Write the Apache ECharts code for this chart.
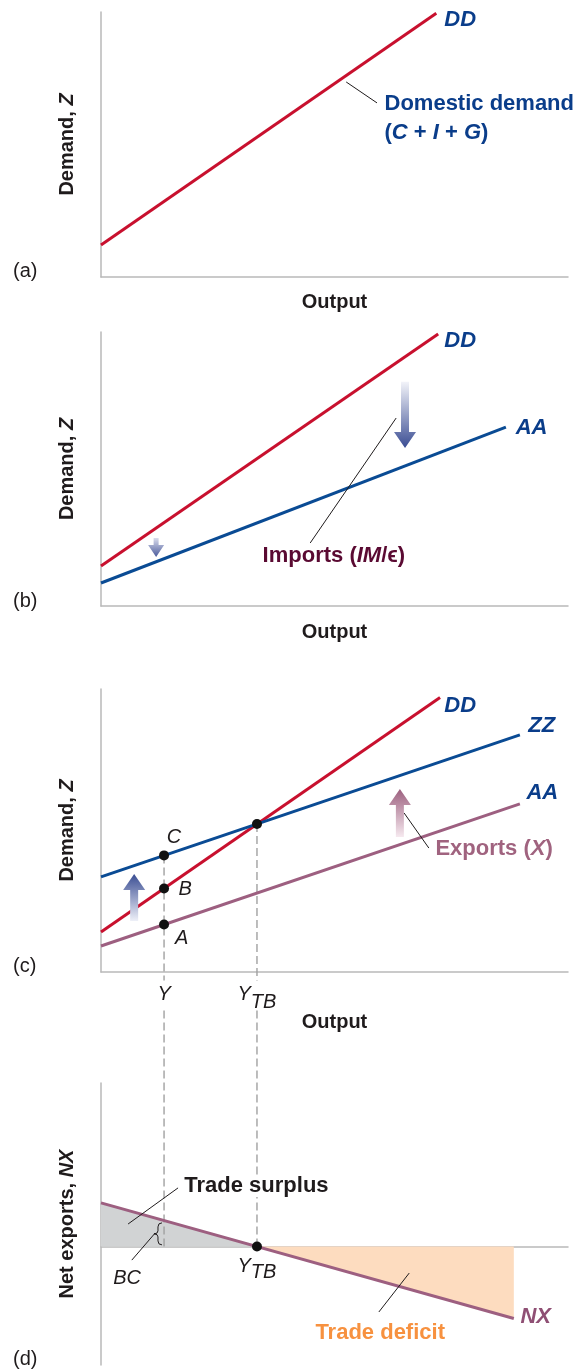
<!DOCTYPE html>
<html>
<head>
<meta charset="utf-8">
<script src="https://cdn.jsdelivr.net/npm/echarts@6/dist/echarts.min.js"></script>
<style>
html,body{margin:0;padding:0;background:#fff;}
#chart{width:580px;height:1371px;}
</style>
</head>
<body>
<div id="chart"></div>
<script>
// ---------- data (x = output, y = demand / net exports) ----------
const DD_a = [[0, 12.1], [71.8, 99.5]];

const DD_b = [[0, 14.6], [72.2, 99.3]];
const AA_b = [[0, 8.4], [86.7, 65.3]];

const DD_c = [[0, 14.1], [72.6, 97.0]];
const ZZ_c = [[0, 33.6], [89.7, 83.8]];
const AA_c = [[0, 9.2], [89.7, 59.4]];
const pointsC = [[13.5, 41.2], [13.5, 29.5], [13.5, 16.8], [33.4, 52.3]];
const Y_level = 13.5;
const YTB_level = 33.4;

const NX_d = [[0, 15.5], [88.4, -25.5]];
const surplus_d = [[0, 15.5], [33.4, 0]];
const deficit_d = [[33.4, 0], [88.4, -25.5]];
const pointD = [[33.4, 0]];
const braceBC = [[12.2, 0.6, 8.4]];

// arrows: [xTail, yTail, xHead, yHead]
const importsBig_b = [[65.1, 81.8, 65.1, 57.7]];
const importsSmall_b = [[11.8, 24.8, 11.8, 17.9]];
const exportsArrow_c = [[64.0, 47.7, 64.0, 64.7]];
const shiftArrow_c = [[7.1, 18.0, 7.1, 34.6]];

// leader lines
const leader_a = [[52.5, 73.6], [59.1, 65.7]];
const leader_b = [[44.8, 23.0], [63.2, 68.6]];
const leader_c = [[64.9, 56.2], [70.2, 43.8]];
const leaderSurplus_d = [[5.8, 8.0], [16.5, 20.8]];
const leaderBC_d = [[6.6, -4.8], [11.6, 4.8]];
const leaderDeficit_d = [[59.5, -23.2], [66.0, -9.4]];

// axis ranges
const xRange = [0, 100];
const yRangeABC = [0, 100];
const yRangeD = [-42, 58];

// ---------- styles ----------
const FONT = '"Liberation Sans", Arial, Helvetica, "DejaVu Sans", sans-serif';
const RED = '#c8102e';
const BLUE = '#0a4b94';
const LBLUE = '#0a3d8a';
const MAROON = '#5a0a32';
const MAUVE = '#9d5f80';
const MAUVE_T = '#a0637f';
const ORANGE = '#f7913f';
const ORANGE_F = '#fddcbf';
const GRAYF = '#d1d3d4';
const AXIS = '#b9b9b9';
const INK = '#1f1b1c';

function rich(color, size) {
  const base = {color: color, fontSize: size, fontFamily: FONT, opacity: 1};
  return {
    b: Object.assign({}, base, {fontWeight: 'bold'}),
    bi: Object.assign({}, base, {fontWeight: 'bold', fontStyle: 'italic'}),
    i: Object.assign({}, base, {fontStyle: 'italic'}),
    n: Object.assign({}, base),
    ysub8: Object.assign({}, base, {fontStyle: 'italic', verticalAlign: 'bottom', padding: [0, 0, 8, 0]}),
    ysub6: Object.assign({}, base, {fontStyle: 'italic', verticalAlign: 'bottom', padding: [0, 0, 6, 0]}),
    sub: Object.assign({}, base, {fontStyle: 'italic', verticalAlign: 'bottom'})
  };
}

const grids = [
  {left: 101, top: 12, width: 467, height: 265},
  {left: 101, top: 332, width: 467, height: 274},
  {left: 101, top: 689, width: 467, height: 283},
  {left: 101, top: 1083, width: 467, height: 282}
];

function xAxisFor(i, gap) {
  return {
    gridIndex: i, type: 'value', min: xRange[0], max: xRange[1],
    axisLine: {show: true, onZero: true, lineStyle: {color: AXIS, width: 1.5}},
    axisTick: {show: false}, axisLabel: {show: false}, splitLine: {show: false},
    name: i === 3 ? '' : 'Output', nameLocation: 'middle', nameGap: gap,
    nameTextStyle: {color: INK, fontSize: 20, fontWeight: 'bold', fontFamily: FONT}
  };
}
function yAxisFor(i, range, name) {
  return {
    gridIndex: i, type: 'value', min: range[0], max: range[1],
    axisLine: {show: true, onZero: false, lineStyle: {color: AXIS, width: 1.5}},
    axisTick: {show: false}, axisLabel: {show: false}, splitLine: {show: false},
    name: name, nameLocation: 'middle', nameGap: 24,
    nameTextStyle: {color: INK, fontSize: 20, fontWeight: 'bold', fontFamily: FONT,
      rich: rich(INK, 20)}
  };
}

function line(gi, data, color, width, z, extra) {
  return Object.assign({
    type: 'line', xAxisIndex: gi, yAxisIndex: gi, data: data, symbol: 'none',
    lineStyle: {color: color, width: width}, silent: true, z: z || 3, clip: false,
    animation: false
  }, extra || {});
}
function leader(gi, data) { return line(gi, data, INK, 1, 4); }
function dashed(gi, data) {
  return line(gi, data, '#a0a0a0', 1.4, 2, {lineStyle: {color: '#a0a0a0', width: 1.4, type: [8, 4]}});
}
function dots(gi, data) {
  return {type: 'scatter', xAxisIndex: gi, yAxisIndex: gi, data: data, symbolSize: 10,
    itemStyle: {color: '#111111', opacity: 1}, z: 8, silent: true, animation: false, clip: false};
}
function labels(gi, items) {
  return {
    type: 'scatter', xAxisIndex: gi, yAxisIndex: gi, clip: false, symbolSize: 1, silent: true,
    z: 9, animation: false, itemStyle: {color: 'rgba(0,0,0,0)', opacity: 1},
    data: items.map(function (it) {
      return {value: [it.x, it.y], label: {
        show: true, position: it.pos || 'right', distance: 0, formatter: it.text,
        color: it.color, fontSize: it.size || 22, fontFamily: FONT, opacity: 1,
        backgroundColor: it.bg || 'transparent', padding: it.bg ? [0, 2] : 0,
        rich: rich(it.color, it.size || 22)
      }};
    })
  };
}
function arrows(gi, data, dark, light, shaftW, headW, headL) {
  return {
    type: 'custom', xAxisIndex: gi, yAxisIndex: gi, data: data, silent: true, z: 5,
    animation: false, clip: false,
    encode: {x: [0, 2], y: [1, 3]},
    renderItem: function (params, api) {
      const t = api.coord([api.value(0), api.value(1)]);
      const h = api.coord([api.value(2), api.value(3)]);
      const dx = h[0] - t[0], dy = h[1] - t[1];
      const L = Math.sqrt(dx * dx + dy * dy);
      const ux = dx / L, uy = dy / L, nx = -uy, ny = ux;
      const bx = h[0] - ux * headL, by = h[1] - uy * headL;
      const s = shaftW / 2, w = headW / 2;
      const pts = [
        [t[0] + nx * s, t[1] + ny * s], [bx + nx * s, by + ny * s], [bx + nx * w, by + ny * w],
        [h[0], h[1]], [bx - nx * w, by - ny * w], [bx - nx * s, by - ny * s], [t[0] - nx * s, t[1] - ny * s]
      ];
      return {type: 'polygon', shape: {points: pts}, style: {
        fill: {type: 'linear', x: t[0], y: t[1], x2: h[0], y2: h[1], global: true,
          colorStops: [{offset: 0, color: light}, {offset: 1, color: dark}]}
      }};
    }
  };
}
function brace(gi, data) {
  return {
    type: 'custom', xAxisIndex: gi, yAxisIndex: gi, data: data, silent: true, z: 5,
    animation: false, clip: false, encode: {x: 0, y: [1, 2]},
    renderItem: function (params, api) {
      const b = api.coord([api.value(0), api.value(1)]);
      const t = api.coord([api.value(0), api.value(2)]);
      const X = b[0], top = t[1], bot = b[1], mid = (top + bot) / 2;
      const p = 'M' + (X + 4) + ' ' + top + ' Q' + X + ' ' + top + ' ' + X + ' ' + (top + 4) +
        ' L' + X + ' ' + (mid - 3) + ' Q' + X + ' ' + mid + ' ' + (X - 4) + ' ' + mid +
        ' Q' + X + ' ' + mid + ' ' + X + ' ' + (mid + 3) +
        ' L' + X + ' ' + (bot - 4) + ' Q' + X + ' ' + bot + ' ' + (X + 4) + ' ' + bot;
      return {type: 'path', shape: {pathData: p}, style: {fill: null, stroke: INK, lineWidth: 1}};
    }
  };
}

const series = [
  // ---- (a)
  line(0, DD_a, RED, 3),
  leader(0, leader_a),
  labels(0, [
    {x: 73.4, y: 97.0, text: '{bi|DD}', color: LBLUE},
    {x: 60.6, y: 65.3, text: '{b|Domestic demand}', color: LBLUE},
    {x: 60.6, y: 54.3, text: '{b|(}{bi|C}{b| + }{bi|I}{b| + }{bi|G}{b|)}', color: LBLUE}
  ]),
  // ---- (b)
  line(1, DD_b, RED, 3),
  line(1, AA_b, BLUE, 3),
  leader(1, leader_b),
  arrows(1, importsBig_b, '#3a4d93', '#f2f3f9', 8, 22, 16),
  arrows(1, importsSmall_b, '#4a5a9c', '#d9dcec', 5, 16, 12),
  labels(1, [
    {x: 73.4, y: 96.7, text: '{bi|DD}', color: LBLUE},
    {x: 88.7, y: 65.0, text: '{bi|AA}', color: LBLUE},
    {x: 34.5, y: 18.2, text: '{b|Imports (}{bi|IM}{b|/ϵ)}', color: MAROON}
  ]),
  // ---- (c)
  dashed(2, [[Y_level, pointsC[0][1]], [Y_level, -3]]),
  dashed(2, [[YTB_level, pointsC[3][1]], [YTB_level, -3]]),
  line(2, AA_c, MAUVE, 3),
  line(2, DD_c, RED, 3),
  line(2, ZZ_c, BLUE, 3),
  leader(2, leader_c),
  arrows(2, exportsArrow_c, '#9c5f7e', '#f6e9ef', 8, 22, 16),
  arrows(2, shiftArrow_c, '#3a4d93', '#eef0f8', 8, 22, 16),
  dots(2, pointsC),
  labels(2, [
    {x: 73.4, y: 94.0, text: '{bi|DD}', color: LBLUE},
    {x: 91.4, y: 86.9, text: '{bi|ZZ}', color: LBLUE},
    {x: 91.0, y: 63.3, text: '{bi|AA}', color: LBLUE},
    {x: 71.5, y: 43.5, text: '{b|Exports (}{bi|X}{b|)}', color: MAUVE_T},
    {x: 15.6, y: 47.7, text: '{i|C}', color: INK, size: 20, pos: 'inside'},
    {x: 18.0, y: 29.0, text: '{i|B}', color: INK, size: 20, pos: 'inside'},
    {x: 17.3, y: 12.0, text: '{i|A}', color: INK, size: 20, pos: 'inside'},
    {x: Y_level, y: -8.1, text: '{i|Y}', color: INK, size: 20, pos: 'inside'},
    {x: YTB_level, y: -9.3, text: '{ysub8|Y}{sub|TB}', color: INK, size: 20, pos: 'inside'}
  ]),
  // ---- (d)
  line(3, surplus_d, 'rgba(0,0,0,0)', 0, 1, {areaStyle: {color: GRAYF, opacity: 1}}),
  line(3, deficit_d, 'rgba(0,0,0,0)', 0, 1, {areaStyle: {color: ORANGE_F, opacity: 1}}),
  dashed(3, [[Y_level, 0], [Y_level, 83.9]]),
  dashed(3, [[YTB_level, 0], [YTB_level, 83.9]]),
  line(3, NX_d, MAUVE, 3),
  leader(3, leaderSurplus_d),
  leader(3, leaderBC_d),
  leader(3, leaderDeficit_d),
  brace(3, braceBC),
  dots(3, pointD),
  labels(3, [
    {x: 17.3, y: 21.5, text: '{b|Trade surplus}', color: INK, bg: '#ffffff'},
    {x: 5.6, y: -11.2, text: '{i|BC}', color: INK, size: 20, pos: 'inside'},
    {x: YTB_level, y: -8.0, text: '{ysub6|Y}{sub|TB}', color: INK, size: 20, pos: 'inside'},
    {x: 45.8, y: -30.7, text: '{b|Trade deficit}', color: ORANGE},
    {x: 89.7, y: -25.0, text: '{bi|NX}', color: '#8f4f74'}
  ])
];

const panelText = function (txt, top) {
  return {type: 'text', left: 13, top: top, silent: true,
    style: {text: txt, fill: INK, font: '20px ' + FONT}};
};

const option = {
  animation: false,
  backgroundColor: '#ffffff',
  grid: grids,
  xAxis: [xAxisFor(0, 15), xAxisFor(1, 16), xAxisFor(2, 40), xAxisFor(3, 0)],
  yAxis: [
    yAxisFor(0, yRangeABC, 'Demand, {i|Z}'),
    yAxisFor(1, yRangeABC, 'Demand, {i|Z}'),
    yAxisFor(2, yRangeABC, 'Demand, {i|Z}'),
    yAxisFor(3, yRangeD, 'Net exports, {bi|NX}')
  ],
  graphic: [
    panelText('(a)', 261), panelText('(b)', 591), panelText('(c)', 956), panelText('(d)', 1349)
  ],
  series: series
};

const chart = echarts.init(document.getElementById('chart'), null, {renderer: 'canvas'});
chart.setOption(option);
</script>
</body>
</html>
